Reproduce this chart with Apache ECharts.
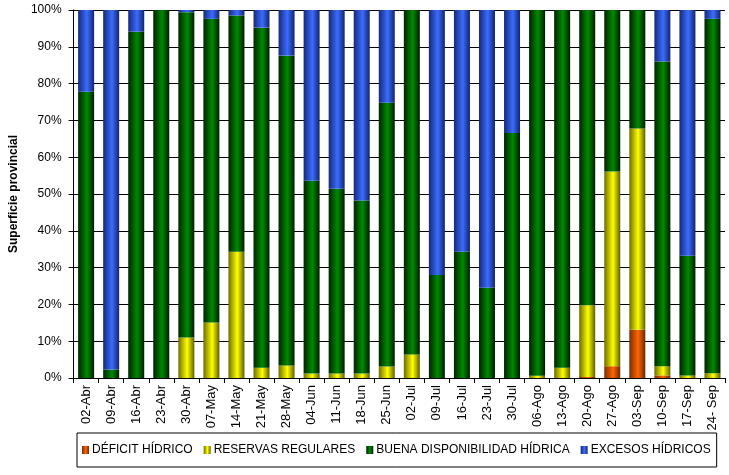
<!DOCTYPE html>
<html>
<head>
<meta charset="utf-8">
<script src="https://cdn.jsdelivr.net/npm/echarts@6/dist/echarts.min.js"></script>
<style>html,body{margin:0;padding:0;background:#fff}#c{width:729px;height:475px}</style>
</head>
<body>
<div id="c"></div>
<script>
var categories = ['02-Abr','09-Abr','16-Abr','23-Abr','30-Abr','07-May','14-May','21-May','28-May','04-Jun','11-Jun','18-Jun','25-Jun','02-Jul','09-Jul','16-Jul','23-Jul','30-Jul','06-Ago','13-Ago','20-Ago','27-Ago','03-Sep','10-Sep','17-Sep','24- Sep'];
var deficit  = [0,0,0,0,0,0,0,0,0,0,0,0,0,0,0,0,0,0,0,0,0.3,3.2,13.1,0.7,0,0];
var reservas = [0,0,0,0,11.0,15.1,34.3,2.8,3.4,1.2,1.2,1.2,3.1,6.4,0,0,0,0,0.6,2.8,19.5,52.9,54.7,2.5,0.7,1.3];
var buena    = [77.8,2.3,94.1,100,88.4,82.5,64.2,92.4,84.2,52.4,50.2,47.0,71.7,93.6,28.0,34.3,24.5,66.6,99.4,97.2,80.2,43.9,32.2,82.8,32.5,96.3];
var excesos  = [22.2,97.7,5.9,0,0.6,2.4,1.5,4.8,12.4,46.4,48.6,51.8,25.2,0,72.0,65.7,75.5,33.4,0,0,0,0,0,14.0,66.8,2.4];
var yTicks = ['0%','10%','20%','30%','40%','50%','60%','70%','80%','90%','100%'];

function grad(edge, bright, edge2) {
  return new echarts.graphic.LinearGradient(0, 0, 1, 0, [
    {offset: 0, color: edge},
    {offset: 0.55, color: bright},
    {offset: 1, color: edge2}
  ]);
}
var font = 'Arial, "Liberation Sans", sans-serif';
function mk(name, data, color) {
  return {
    name: name, type: 'bar', stack: 't', data: data,
    barWidth: 16,
    itemStyle: {color: color},
    emphasis: {disabled: true},
    animation: false
  };
}
var chart = echarts.init(document.getElementById('c'), null, {renderer: 'canvas'});
chart.setOption({
  animation: false,
  backgroundColor: '#ffffff',
  grid: {left: 68, right: 4, top: 10, bottom: 97, containLabel: false},
  legend: {
    left: 77, top: 433,
    width: 640,
    padding: [11, 6, 11, 5],
    borderColor: '#000', borderWidth: 1,
    itemWidth: 7, itemHeight: 8, itemGap: 11,
    icon: 'rect',
    textStyle: {fontFamily: font, fontSize: 12, color: '#000', padding: [0,0,0,-2]},
    data: ['DÉFICIT HÍDRICO','RESERVAS REGULARES','BUENA DISPONIBILIDAD HÍDRICA','EXCESOS HÍDRICOS']
  },
  xAxis: {
    type: 'category', data: categories,
    axisLine: {lineStyle: {color: '#000', width: 1}},
    axisTick: {show: true, alignWithLabel: false, length: 5, lineStyle: {color: '#000'}},
    axisLabel: {rotate: 90, interval: 0, fontFamily: font, fontSize: 13, color: '#000', margin: 7}
  },
  yAxis: {
    type: 'value', min: 0, max: 100, interval: 10,
    name: 'Superficie provincial', nameLocation: 'middle', nameGap: 50,
    nameTextStyle: {fontFamily: font, fontSize: 12, fontWeight: 'bold', color: '#000'},
    axisLine: {show: true, lineStyle: {color: '#000'}},
    axisTick: {show: true, length: 5, lineStyle: {color: '#000'}},
    splitLine: {show: true, lineStyle: {color: '#000', width: 1}},
    axisLabel: {fontFamily: font, fontSize: 12, color: '#000', margin: 12,
      formatter: function (v) { return yTicks[Math.round(v / 10)]; }}
  },
  series: [
    mk('DÉFICIT HÍDRICO', deficit, grad('#7a2e00', '#ff6600', '#6a2800')),
    mk('RESERVAS REGULARES', reservas, grad('#6e6e00', '#ffff00', '#5e5e00')),
    mk('BUENA DISPONIBILIDAD HÍDRICA', buena, grad('#002400', '#008a00', '#001c00')),
    mk('EXCESOS HÍDRICOS', excesos, grad('#16297a', '#3a6cff', '#13246a'))
  ]
});
</script>
</body>
</html>
